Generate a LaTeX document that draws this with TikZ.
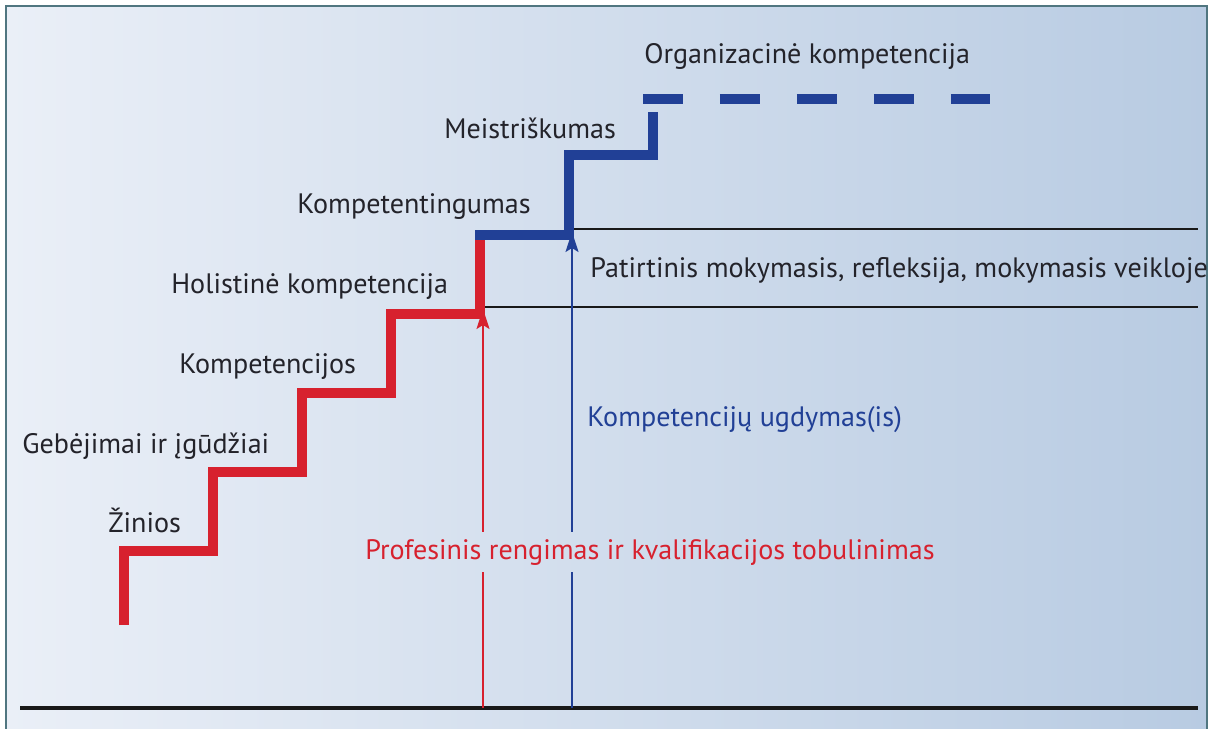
\documentclass[tikz,border=0pt]{standalone}
\usepackage{fontspec}
\setmainfont{PT Sans}
\usetikzlibrary{arrows.meta}
\definecolor{stepred}{RGB}{215,33,46}
\definecolor{stepblue}{RGB}{33,64,150}
\definecolor{labelgray}{RGB}{35,35,42}
\definecolor{framegray}{RGB}{80,118,128}
\definecolor{bgleft}{RGB}{234,239,247}
\definecolor{bgright}{RGB}{184,203,226}
\tikzset{
  redstep/.style={stepred,line width=0.2cm,line join=miter},
  bluestep/.style={stepblue,line width=0.2cm,line join=miter},
  level/.style={anchor=base west,inner sep=0pt,text=labelgray},
  rise/.style={-{Stealth[length=0.4cm,width=0.26cm,inset=0.08cm]},line width=0.04cm}
}
\begin{document}
\begin{tikzpicture}[x=0.02cm,y=-0.02cm,font=\fontsize{16}{19}\selectfont]
		\useasboundingbox (0,0) rectangle (1211,728);
		\shade[left color=bgleft,right color=bgright] (6,6) rectangle (1207,745);
		\draw[framegray,line width=0.03cm] (6,6) rectangle (1207,745);
		% baseline and level lines
		\draw[black!90,line width=0.08cm] (20,708) -- (1198,708);
		\draw[black!90,line width=0.04cm] (570,229) -- (1198,229);
		\draw[black!90,line width=0.04cm] (481,307) -- (1198,307);
		% staircase
		\draw[redstep] (124,625) |- (213,551) |- (302,472) |- (391,393) |- (480,314) -- (480,240);
		\draw[bluestep] (475,235) -- (569,235) |- (653,155) -- (653,112);
		\draw[bluestep,dash pattern=on 0.8cm off 0.74cm] (643,99) -- (990,99);
		% labels
		\node[level] (zinios) at (108,532) {Žinios};
		\node[level] (gebejimai) at (22,453) {Gebėjimai ir įgūdžiai};
		\node[level] (kompetencijos) at (179,373) {Kompetencijos};
		\node[level] (holistine) at (171,293) {Holistinė kompetencija};
		\node[level] (kompetentingumas) at (297,213) {Kompetentingumas};
		\node[level] (meistriskumas) at (444,138) {Meistriškumas};
		\node[level] (organizacine) at (644,63) {Organizacinė kompetencija};
		\node[level] (patirtinis) at (590,277) {Patirtinis mokymasis, refleksija, mokymasis veikloje};
		\node[level,text=stepblue] (ugdymas) at (587,426) {Kompetencijų ugdymas(is)};
		\node[level,text=stepred,inner sep=4pt] (profesinis) at (358,559) {Profesinis rengimas ir kvalifikacijos tobulinimas};
		% arrows
		\coordinate (redfoot) at (483,708);
		\coordinate (redtop) at (483,309);
		\coordinate (bluefoot) at (572,708);
		\coordinate (bluetop) at (572,232);
		\draw[stepred,line width=0.04cm] (redfoot) -- (redfoot |- profesinis.south);
		\draw[rise,stepred] (redfoot |- profesinis.north) -- (redtop);
		\draw[stepblue,line width=0.04cm] (bluefoot) -- (bluefoot |- profesinis.south);
		\draw[rise,stepblue] (bluefoot |- profesinis.north) -- (bluetop);
\end{tikzpicture}
\end{document}
